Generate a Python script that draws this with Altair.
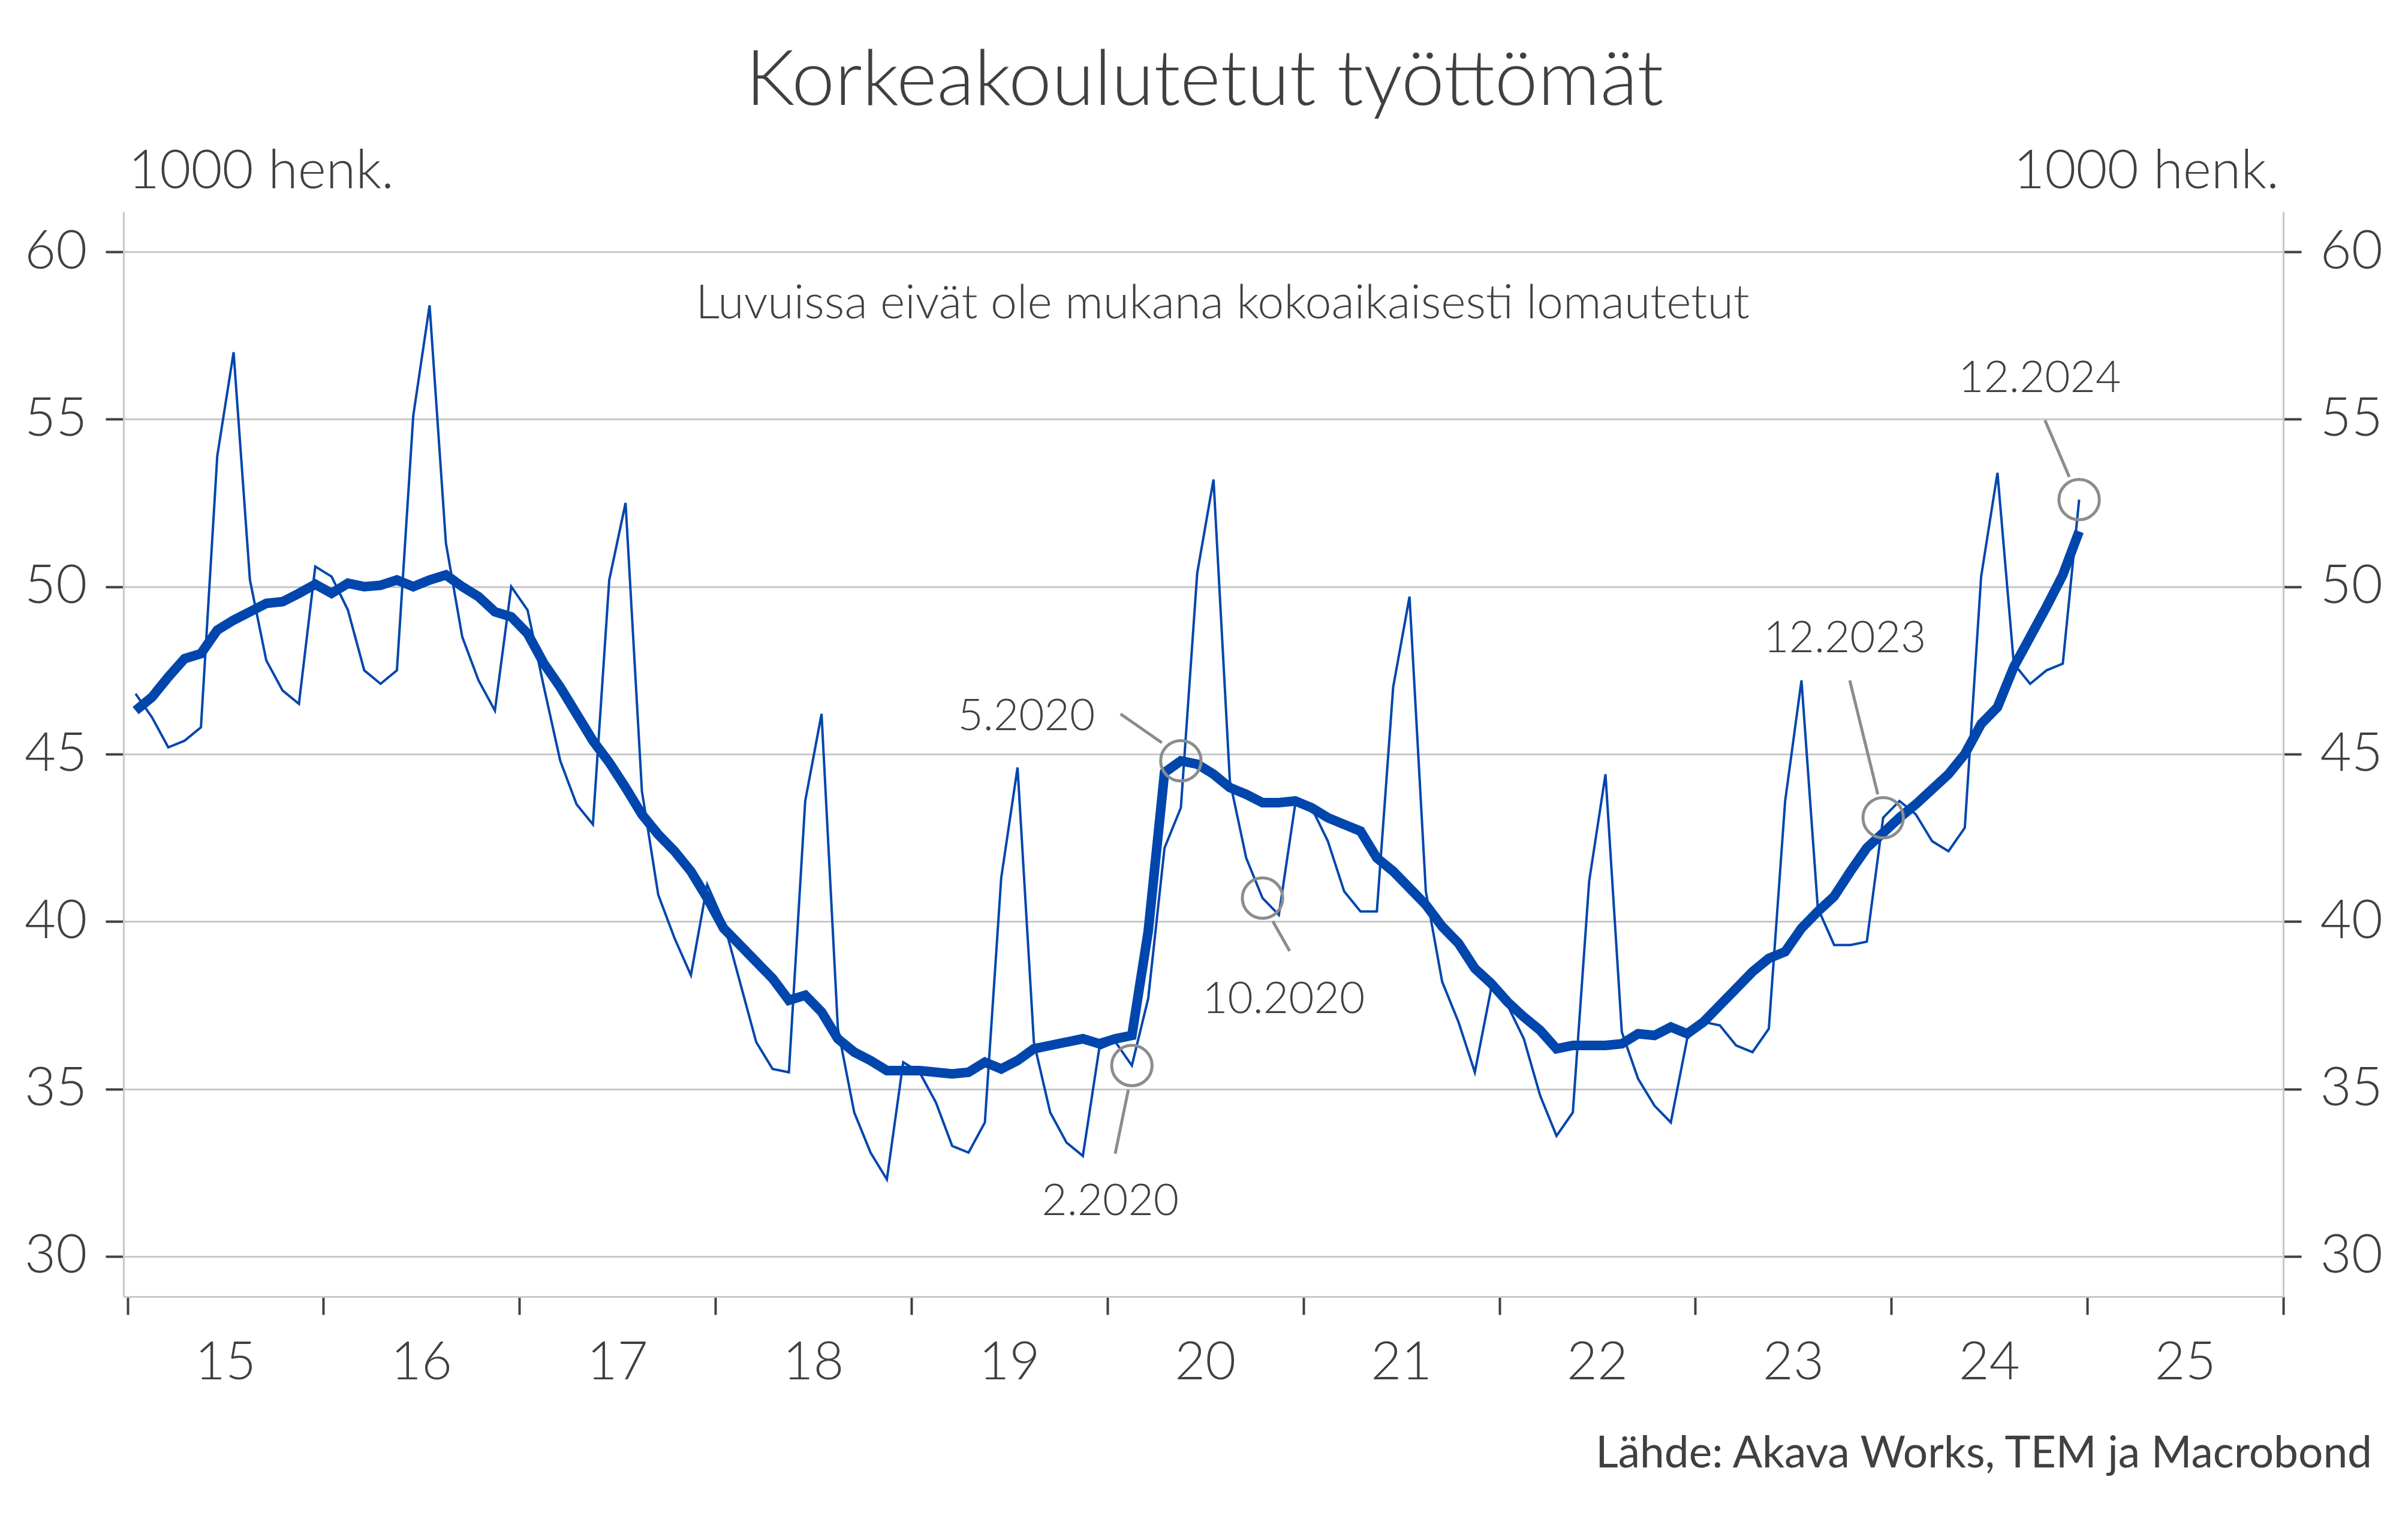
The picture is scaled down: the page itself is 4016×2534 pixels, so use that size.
import altair as alt
import pandas as pd

# ---------------- data ----------------
years = list(range(2015, 2025))

raw = [
    46.8, 46.1, 45.2, 45.4, 45.8, 53.9, 57.0, 50.2, 47.8, 46.9, 46.5, 50.6,   # 2015
    50.3, 49.3, 47.5, 47.1, 47.5, 55.1, 58.4, 51.3, 48.5, 47.2, 46.3, 50.0,   # 2016
    49.3, 47.0, 44.8, 43.5, 42.9, 50.2, 52.5, 43.9, 40.8, 39.5, 38.4, 41.1,   # 2017
    40.0, 38.2, 36.4, 35.6, 35.5, 43.6, 46.2, 36.8, 34.3, 33.1, 32.3, 35.8,   # 2018
    35.5, 34.6, 33.3, 33.1, 34.0, 41.3, 44.6, 36.4, 34.3, 33.4, 33.0, 36.2,   # 2019
    36.4, 35.7, 37.7, 42.2, 43.4, 50.4, 53.2, 44.2, 41.9, 40.7, 40.2, 43.5,   # 2020
    43.4, 42.4, 40.9, 40.3, 40.3, 47.0, 49.7, 40.9, 38.2, 37.0, 35.5, 38.0,   # 2021
    37.5, 36.5, 34.8, 33.6, 34.3, 41.2, 44.4, 36.7, 35.3, 34.5, 34.0, 36.5,   # 2022
    37.0, 36.9, 36.3, 36.1, 36.8, 43.6, 47.2, 40.4, 39.3, 39.3, 39.4, 43.1,   # 2023
    43.6, 43.2, 42.4, 42.1, 42.8, 50.3, 53.4, 47.7, 47.1, 47.5, 47.7, 52.6,   # 2024
]

trend = [
    46.3, 46.7, 47.3, 47.85, 48.0, 48.7, 49.0, 49.25, 49.5, 49.55, 49.8, 50.07,   # 2015
    49.8, 50.1, 50.0, 50.04, 50.2, 50.0, 50.2, 50.35, 50.0, 49.7, 49.25, 49.1,    # 2016
    48.6, 47.7, 47.0, 46.2, 45.4, 44.75, 44.0, 43.2, 42.6, 42.1, 41.5, 40.7,      # 2017
    39.8, 39.3, 38.8, 38.3, 37.65, 37.8, 37.3, 36.5, 36.1, 35.85, 35.55, 35.55,   # 2018
    35.55, 35.5, 35.45, 35.5, 35.8, 35.6, 35.85, 36.2, 36.3, 36.4, 36.5, 36.35,   # 2019
    36.5, 36.6, 39.7, 44.45, 44.8, 44.7, 44.4, 44.0, 43.8, 43.55, 43.55, 43.6,    # 2020
    43.4, 43.1, 42.9, 42.7, 41.9, 41.5, 41.0, 40.5, 39.85, 39.35, 38.6, 38.15,    # 2021
    37.6, 37.15, 36.75, 36.2, 36.3, 36.3, 36.3, 36.35, 36.65, 36.6, 36.85, 36.65, # 2022
    37.0, 37.5, 38.0, 38.5, 38.9, 39.1, 39.8, 40.3, 40.75, 41.5, 42.2, 42.65,     # 2023
    43.1, 43.5, 43.95, 44.4, 45.0, 45.9, 46.4, 47.6, 48.5, 49.4, 50.35, 51.65,    # 2024
]

x_ticks = list(range(2015, 2027))
y_ticks = [30, 35, 40, 45, 50, 55, 60]

# annotations: label, circle centre, leader line, label position (data units)
ann_label = ["2.2020", "5.2020", "10.2020", "12.2023", "12.2024"]
ann_cx = [2020 + 1.5 / 12, 2020 + 4.5 / 12, 2020 + 9.5 / 12, 2023 + 11.5 / 12, 2024 + 11.5 / 12]
ann_cy = [35.7, 44.8, 40.7, 43.1, 52.6]
ann_lx1 = [2020.107, 2020.067, 2020.844, 2023.788, 2024.784]
ann_ly1 = [34.98, 46.20, 40.01, 47.20, 54.97]
ann_lx2 = [2020.040, 2020.278, 2020.930, 2023.931, 2024.908]
ann_ly2 = [33.07, 45.34, 39.12, 43.80, 53.28]
ann_tx = [2020.015, 2019.587, 2020.899, 2023.763, 2024.757]
ann_ty = [31.23, 45.72, 37.26, 48.04, 55.82]

note_text = ["Luvuissa eivät ole mukana kokoaikaisesti lomautetut"]
note_x = [2020.588]
note_y = [58.02]

title_text = "Korkeakoulutetut työttömät"
unit_text = "1000 henk."
source_text = "Lähde: Akava Works, TEM ja Macrobond"

# ---------------- build tables ----------------
t = [y + (m + 0.5) / 12 for y in years for m in range(12)]
df = pd.DataFrame({"t": t, "raw": raw, "trend": trend})
ann = pd.DataFrame({
    "label": ann_label, "cx": ann_cx, "cy": ann_cy,
    "lx1": ann_lx1, "ly1": ann_ly1, "lx2": ann_lx2, "ly2": ann_ly2,
    "tx": ann_tx, "ty": ann_ty,
})
note = pd.DataFrame({"label": note_text, "x": note_x, "y": note_y})

# ---------------- style ----------------
FONT = "Lato"
FW = 300
TXT = "#404040"
GRID = "#c8c8c8"
BLUE = "#0046AD"
ANN = "#8c8c8c"

W, H = 3602, 1810
xs = alt.Scale(domain=[2014.98, 2026.0], nice=False, zero=False)
ys = alt.Scale(domain=[28.8, 61.2], nice=False, zero=False)

x_axis = alt.Axis(
    values=x_ticks,
    labelExpr="datum.value >= 2026 ? '' : substring(toString(datum.value), 2, 4)",
    labelOffset=163, labelFontSize=88, labelFont=FONT, labelFontWeight=FW, labelColor=TXT,
    labelPadding=107, labelBaseline="alphabetic",
    tickSize=30, tickWidth=4, tickColor=TXT,
    domainColor=GRID, domainWidth=3, grid=False, title=None,
    labelFlush=False, labelOverlap=False, labelBound=False,
)
yl_axis = alt.Axis(
    orient="left", values=y_ticks, labelFontSize=90, labelFont=FONT, labelFontWeight=FW,
    labelColor=TXT, labelPadding=31, tickSize=30, tickWidth=4, tickColor=TXT,
    domainColor=GRID, domainWidth=3, grid=True, gridColor=GRID, gridWidth=3,
    title=None, labelFlush=False, labelOverlap=False,
)
yr_axis = alt.Axis(
    orient="right", values=y_ticks, labelFontSize=90, labelFont=FONT, labelFontWeight=FW,
    labelColor=TXT, labelPadding=31, tickSize=30, tickWidth=4, tickColor=TXT,
    domainColor=GRID, domainWidth=3, grid=False,
    title=None, labelFlush=False, labelOverlap=False,
)

base = alt.Chart(df)

trend_line = base.mark_line(color=BLUE, strokeWidth=16).encode(
    x=alt.X("t:Q", scale=xs, axis=x_axis),
    y=alt.Y("trend:Q", scale=ys, axis=yl_axis),
)
raw_line = base.mark_line(color=BLUE, strokeWidth=4).encode(
    x=alt.X("t:Q", scale=xs, axis=None),
    y=alt.Y("raw:Q", scale=ys, axis=yr_axis),
)

circles = alt.Chart(ann).mark_point(
    shape="circle", filled=False, size=4540, stroke=ANN, strokeWidth=5, opacity=1
).encode(
    x=alt.X("cx:Q", scale=xs, axis=None),
    y=alt.Y("cy:Q", scale=ys, axis=None),
)
leaders = alt.Chart(ann).mark_rule(color=ANN, strokeWidth=5).encode(
    x=alt.X("lx1:Q", scale=xs, axis=None),
    y=alt.Y("ly1:Q", scale=ys, axis=None),
    x2="lx2:Q",
    y2="ly2:Q",
)
ann_text = alt.Chart(ann).mark_text(
    font=FONT, fontWeight=FW, fontSize=73, color=TXT, align="center", baseline="alphabetic"
).encode(
    x=alt.X("tx:Q", scale=xs, axis=None),
    y=alt.Y("ty:Q", scale=ys, axis=None),
    text="label:N",
)
note_mark = alt.Chart(note).mark_text(
    font=FONT, fontWeight=FW, fontSize=79, color=TXT, align="center", baseline="alphabetic"
).encode(
    x=alt.X("x:Q", scale=xs, axis=None),
    y=alt.Y("y:Q", scale=ys, axis=None),
    text="label:N",
)

static = pd.DataFrame({"title": [title_text], "unit": [unit_text], "source": [source_text]})
title_mark = alt.Chart(static).mark_text(
    font=FONT, fontWeight=FW, fontSize=129, color=TXT, align="center", baseline="alphabetic"
).encode(x=alt.value(1803), y=alt.value(-178), text="title:N")
unit_left = alt.Chart(static).mark_text(
    font=FONT, fontWeight=FW, fontSize=90, color=TXT, align="left", baseline="alphabetic"
).encode(x=alt.value(8), y=alt.value(-39), text="unit:N")
unit_right = alt.Chart(static).mark_text(
    font=FONT, fontWeight=FW, fontSize=90, color=TXT, align="right", baseline="alphabetic"
).encode(x=alt.value(3595), y=alt.value(-39), text="unit:N")
source_mark = alt.Chart(static).mark_text(
    font=FONT, fontWeight="normal", fontSize=73, color=TXT, align="right", baseline="alphabetic"
).encode(x=alt.value(3750), y=alt.value(2095), text="source:N")

chart = alt.layer(
    trend_line, raw_line, circles, leaders, ann_text, note_mark,
    title_mark, unit_left, unit_right, source_mark,
).resolve_axis(
    x="independent", y="independent"
).properties(
    width=W, height=H,
    autosize=alt.AutoSizeParams(type="none"),
    padding={"left": 198, "top": 345, "right": 190, "bottom": 340},
    background="white",
).configure_view(stroke=None)

chart.save("out.html", embed_options={"renderer": "svg", "actions": False})
